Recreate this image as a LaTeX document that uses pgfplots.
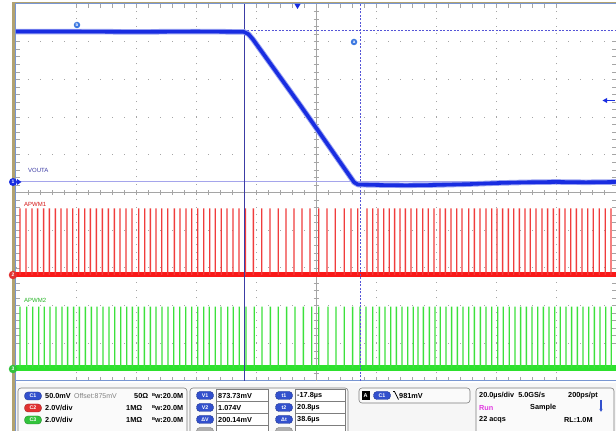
\documentclass[border=0pt]{standalone}
\usepackage{pgfplots}
\pgfplotsset{compat=1.18}
\usetikzlibrary{arrows.meta}
\usepackage{fontspec}
\setmainfont{Liberation Sans}
\definecolor{trblue}{RGB}{25,45,225}
\definecolor{trred}{RGB}{250,25,25}
\definecolor{pulsered}{RGB}{240,60,60}
\definecolor{trgreen}{RGB}{45,225,45}
\definecolor{pulsegreen}{RGB}{60,225,60}
\definecolor{gridgray}{RGB}{165,165,165}
\definecolor{framblue}{RGB}{120,150,210}
\definecolor{tanc}{RGB}{178,162,112}
\definecolor{curnavy}{RGB}{60,60,165}
\definecolor{curdash}{RGB}{85,85,215}
\definecolor{lav}{RGB}{165,165,235}
\definecolor{pillblue}{RGB}{50,80,205}
\definecolor{pillred}{RGB}{225,50,50}
\definecolor{pillgreen}{RGB}{50,195,60}
\definecolor{pillgray}{RGB}{175,175,175}
\definecolor{panelbg}{RGB}{246,246,246}
\definecolor{boxline}{RGB}{125,125,125}
\definecolor{runmag}{RGB}{225,60,225}
\definecolor{mkblue}{RGB}{60,120,225}
\pgfplotsset{scopeax/.style={scale only axis, width=600pt, height=377pt, at={(16pt,50pt)}, anchor=south west, xmin=-100, xmax=100}}
\tikzset{px/.style={x=1pt,y=-1pt,shift={(0pt,431pt)}}}
\newcommand{\pf}{\fontsize{7.3}{8}\selectfont\bfseries}
\newcommand{\bw}{\raisebox{1.8pt}{\fontsize{4.3}{5}\selectfont B}\kern-0.3pt\raisebox{-0.9pt}{\fontsize{5.8}{6}\selectfont W}}
\newcommand{\pill}[4]{\node[fill=#1, draw=#1!70!black, line width=0.4pt, rounded corners=3.5pt, minimum width=17pt, minimum height=8pt, inner sep=0pt, text=white, font=\fontsize{5.3}{6}\selectfont\bfseries] at (#2,#3) {#4};}
\begin{document}
\begin{tikzpicture}
\useasboundingbox (0,0) rectangle (616pt,431pt);
\fill[white] (0,0) rectangle (616pt,431pt);
\begin{scope}[px]
 \fill[panelbg] (16,383) rectangle (616,431);
 \fill[tanc] (11.5,2.5) rectangle (15,431);
 \fill[tanc] (11.5,2.5) rectangle (616,3.5);
 \draw[framblue, line width=1.2pt] (15.8,3.5) -- (15.8,431);
\end{scope}
% graticule
\begin{axis}[scopeax, ymin=-5, ymax=5,
  xtick={-80,-60,...,80}, ytick={-4,-3,...,4},
  minor x tick num=4, minor y tick num=4,
  xticklabels={}, yticklabels={},
  tick align=inside, major tick length=4pt, minor tick length=4pt,
  tick style={gridgray, line width=0.6pt},
  grid=major,
  major x grid style={gridgray, line width=0.9pt, dash pattern=on 1pt off 6.54pt},
  major y grid style={gridgray, line width=0.9pt, dash pattern=on 1pt off 11pt},
  axis line style={draw=framblue, line width=1pt}]
\addplot[draw=none] coordinates {(0,0)};
\end{axis}
% centre axes
\begin{axis}[scopeax, ymin=-5, ymax=5, axis lines=middle, axis line style={gridgray, -, line width=0.7pt},
  xtick={-96,-92,...,96}, ytick={-4.8,-4.6,...,4.8}, xticklabels={}, yticklabels={},
  tick align=center, major tick length=5pt, tick style={gridgray, line width=0.6pt}]
\addplot[draw=none] coordinates {(0,0)};
\end{axis}
% APWM1 (red), baseline at y=0
\begin{axis}[scopeax, hide axis, ymin=-2.812, ymax=7.188]
\addplot[trred, line width=5pt] coordinates {(-100,0) (100,0)};
\addplot[ybar, bar width=1.4pt, bar shift=0pt, fill=pulsered, draw=none, mark=none] coordinates {
(-98.67,1.77) (-96.67,1.77) (-94.67,1.77) (-92.77,1.77) (-90.77,1.77) (-88.9,1.77) (-86.9,1.77) (-85,1.77)
(-83,1.77) (-81.1,1.77) (-79.1,1.77) (-77.1,1.77) (-75.23,1.77) (-73.23,1.77) (-71.23,1.77) (-69.23,1.77)
(-67.23,1.77) (-65.33,1.77) (-63.33,1.77) (-61.33,1.77) (-59.1,1.77) (-57.1,1.77) (-55.23,1.77) (-53.33,1.77)
(-51.43,1.77) (-49.43,1.77) (-47.23,1.77) (-45.33,1.77) (-43.33,1.77) (-41.43,1.77) (-39.43,1.77) (-37.43,1.77)
(-35.43,1.77) (-33.57,1.77) (-31.57,1.77) (-29.67,1.77) (-27.67,1.77) (-25.67,1.77) (-23.5,1.77) (-20.9,1.77)
(-18.1,1.77) (-15.33,1.77) (-12.57,1.77) (-10,1.77) (-7.33,1.77) (-4.67,1.77) (-2,1.77) (0.9,1.77)
(3.67,1.77) (6.43,1.77) (9.43,1.77) (11.67,1.77) (13.9,1.77) (17,1.77) (18.9,1.77) (20.67,1.77)
(22.57,1.77) (24.43,1.77) (26.23,1.77) (28,1.77) (29.77,1.77) (31.67,1.77) (33.57,1.77) (35.57,1.77)
(37.43,1.77) (39.33,1.77) (41.33,1.77) (43.1,1.77) (45,1.77) (46.9,1.77) (48.67,1.77) (50.9,1.77)
(52.77,1.77) (54.67,1.77) (56.67,1.77) (58.57,1.77) (60.33,1.77) (62.23,1.77) (64.1,1.77) (65.9,1.77)
(67.77,1.77) (69.67,1.77) (71.43,1.77) (73.33,1.77) (75.33,1.77) (77.23,1.77) (79.1,1.77) (81.1,1.77)
(83,1.77) (84.9,1.77) (86.77,1.77) (88.67,1.77) (90.57,1.77) (92.43,1.77) (94.43,1.77) (96.43,1.77) (98.33,1.77)};
\end{axis}
% APWM2 (green), baseline at y=0
\begin{axis}[scopeax, hide axis, ymin=-0.345, ymax=9.655]
\addplot[trgreen, line width=5.5pt] coordinates {(-100,0) (100,0)};
\addplot[ybar, bar width=1.4pt, bar shift=0pt, fill=pulsegreen, draw=none, mark=none] coordinates {
(-98.67,1.63) (-96.43,1.63) (-94.43,1.63) (-92.43,1.63) (-90.57,1.63) (-88.67,1.63) (-86.67,1.63) (-84.67,1.63)
(-82.77,1.63) (-80.77,1.63) (-78.9,1.63) (-76.9,1.63) (-74.9,1.63) (-73,1.63) (-71,1.63) (-69,1.63)
(-67.1,1.63) (-65.1,1.63) (-63.1,1.63) (-61.23,1.63) (-59.23,1.63) (-57.23,1.63) (-55.23,1.63) (-53.33,1.63)
(-51.33,1.63) (-49.33,1.63) (-47.43,1.63) (-45.43,1.63) (-43.43,1.63) (-41.43,1.63) (-39.43,1.63) (-37.43,1.63)
(-35.57,1.63) (-33.57,1.63) (-31.67,1.63) (-29.43,1.63) (-27.57,1.63) (-25.57,1.63) (-23.33,1.63) (-20.57,1.63)
(-18,1.63) (-15.23,1.63) (-12.57,1.63) (-9.77,1.63) (-7,1.63) (-4.23,1.63) (-1.43,1.63) (0.9,1.63)
(4,1.63) (6.67,1.63) (9.43,1.63) (12.23,1.63) (14.67,1.63) (16.67,1.63) (18.9,1.63) (21.1,1.63)
(23,1.63) (24.9,1.63) (26.77,1.63) (28.67,1.63) (30.57,1.63) (32.43,1.63) (34,1.63) (35.77,1.63)
(37.77,1.63) (39.67,1.63) (41.43,1.63) (43.33,1.63) (45.23,1.63) (47.1,1.63) (49,1.63) (50.9,1.63)
(52.77,1.63) (54.77,1.63) (56.67,1.63) (58.57,1.63) (60.57,1.63) (62.43,1.63) (64.43,1.63) (66.33,1.63)
(68.23,1.63) (70.1,1.63) (72,1.63) (73.9,1.63) (75.77,1.63) (77.67,1.63) (79.57,1.63) (81.43,1.63)
(83.33,1.63) (85.23,1.63) (87.1,1.63) (89,1.63) (90.9,1.63) (92.77,1.63) (94.67,1.63) (96.57,1.63) (98.43,1.63)};
\end{axis}
% cursors and VOUTA
\begin{axis}[scopeax, hide axis, ymin=-5, ymax=5]
\addplot[lav, line width=1pt] coordinates {(-100,0.28) (100,0.28)};
\addplot[curdash, line width=0.8pt, dash pattern=on 2pt off 1.5pt] coordinates {(-100,4.31) (100,4.31)};
\addplot[curdash, line width=0.8pt, dash pattern=on 2pt off 1.5pt] coordinates {(14.67,-5) (14.67,5)};
\addplot[curnavy, line width=1pt] coordinates {(-23.67,-5) (-23.67,5)};
\addplot[trblue!45, line width=5.5pt, line join=round] coordinates {
(-100,4.27) (-80,4.27) (-60,4.26) (-40,4.27) (-24,4.26) (-22.5,4.2) (-21,4.06) (-5.3,2.32) (0,1.72)
(11.3,0.43) (12.7,0.27) (14,0.21) (20,0.2) (30,0.19) (40,0.2) (50,0.22) (60,0.25) (70,0.27) (80,0.28) (90,0.27) (100,0.28)};
\addplot[trblue, line width=3.6pt, line join=round] coordinates {
(-100,4.27) (-80,4.27) (-60,4.26) (-40,4.27) (-24,4.26) (-22.5,4.2) (-21,4.06) (-5.3,2.32) (0,1.72)
(11.3,0.43) (12.7,0.27) (14,0.21) (20,0.2) (30,0.19) (40,0.2) (50,0.22) (60,0.25) (70,0.27) (80,0.28) (90,0.27) (100,0.28)};
\end{axis}
% markers and labels
\begin{scope}[px]
 \node[anchor=west, inner sep=0pt, text=curnavy, font=\fontsize{6}{7}\selectfont] at (28,170) {VOUTA};
 \node[anchor=west, inner sep=0pt, text=trred!85!black, font=\fontsize{6}{7}\selectfont] at (24,204) {APWM1};
 \node[anchor=west, inner sep=0pt, text=trgreen!80!black, font=\fontsize{6}{7}\selectfont] at (24,300) {APWM2};
 \fill[trblue] (17,179) -- (21.5,182) -- (17,185) -- cycle;
 \node[circle, fill=trblue, inner sep=0pt, minimum size=8pt, text=white, font=\fontsize{5}{5}\selectfont\bfseries] at (13,182) {1};
 \node[circle, fill=pillred, inner sep=0pt, minimum size=8.5pt, text=white, font=\fontsize{5}{5}\selectfont\bfseries] at (13,275) {2};
 \node[circle, fill=pillgreen, inner sep=0pt, minimum size=8.5pt, text=white, font=\fontsize{5}{5}\selectfont\bfseries] at (13,369) {3};
 \node[circle, fill=mkblue, inner sep=0pt, minimum size=6.5pt, text=white, font=\fontsize{4.5}{5}\selectfont\bfseries] at (77,25) {b};
 \node[circle, fill=mkblue, inner sep=0pt, minimum size=6.5pt, text=white, font=\fontsize{4.5}{5}\selectfont\bfseries] at (354,42) {a};
 \fill[trblue] (294.5,4) -- (300.5,4) -- (297.5,9) -- cycle;
 \draw[trblue, line width=1pt] (615,100.5) -- (606,100.5);
 \fill[trblue] (602.5,100.5) -- (607,98) -- (607,103) -- cycle;
\end{scope}
% bottom panel
\begin{scope}[px, overlay]
 \filldraw[fill=white!96!gray, draw=boxline, rounded corners=3pt, line width=0.6pt] (18,388) rectangle (187,442);
 \filldraw[fill=white!96!gray, draw=boxline, rounded corners=3pt, line width=0.6pt] (190,388) rectangle (348,442);
 \filldraw[fill=white!96!gray, draw=boxline, rounded corners=3pt, line width=0.6pt] (359,388) rectangle (470,403);
 \filldraw[fill=white!96!gray, draw=boxline, rounded corners=3pt, line width=0.6pt] (476,388) rectangle (614,442);
 \pill{pillblue}{33}{396}{C1}
 \pill{pillred}{33}{408}{C2}
 \pill{pillgreen}{33}{420}{C3}
 \node[anchor=west, inner sep=0pt, font=\pf] at (45,396) {50.0mV};
 \node[anchor=west, inner sep=0pt, font=\fontsize{7}{8}\selectfont, text=gray] at (74,396) {Offset:875mV};
 \node[anchor=west, inner sep=0pt, font=\pf] at (134,396) {50Ω};
 \node[anchor=west, inner sep=0pt, font=\pf] at (152,396) {\bw:20.0M};
 \node[anchor=west, inner sep=0pt, font=\pf] at (45,408) {2.0V/div};
 \node[anchor=west, inner sep=0pt, font=\pf] at (126,408) {1MΩ};
 \node[anchor=west, inner sep=0pt, font=\pf] at (152,408) {\bw:20.0M};
 \node[anchor=west, inner sep=0pt, font=\pf] at (45,420) {2.0V/div};
 \node[anchor=west, inner sep=0pt, font=\pf] at (126,420) {1MΩ};
 \node[anchor=west, inner sep=0pt, font=\pf] at (152,420) {\bw:20.0M};
 \foreach \yy in {389.5,401.5,413.5,425.5} {
   \draw[boxline, fill=white, line width=0.5pt] (216,\yy) rectangle (268,\yy+12);
   \draw[boxline, fill=white, line width=0.5pt] (295,\yy) rectangle (345,\yy+12);
 }
 \pill{pillblue}{205}{395.5}{V1}
 \pill{pillblue}{205}{407.5}{V2}
 \pill{pillblue}{205}{419.5}{ΔV}
 \pill{pillgray}{205}{431.5}{}
 \pill{pillblue}{284}{395.5}{t1}
 \pill{pillblue}{284}{407.5}{t2}
 \pill{pillblue}{284}{419.5}{Δt}
 \pill{pillgray}{284}{431.5}{}
 \node[anchor=west, inner sep=0pt, font=\pf] at (218,395.5) {873.73mV};
 \node[anchor=west, inner sep=0pt, font=\pf] at (218,407.5) {1.074V};
 \node[anchor=west, inner sep=0pt, font=\pf] at (218,419.5) {200.14mV};
 \node[anchor=west, inner sep=0pt, font=\pf] at (297,395.5) {-17.8µs};
 \node[anchor=west, inner sep=0pt, font=\pf] at (297,407.5) {20.8µs};
 \node[anchor=west, inner sep=0pt, font=\pf] at (297,419.5) {38.6µs};
 \node[fill=black, minimum width=8pt, minimum height=8.5pt, inner sep=0pt, text=white, font=\fontsize{5.5}{6}\selectfont\bfseries] at (365.5,395.5) {A};
 \pill{pillblue}{382}{395.5}{C1}
 \draw[black, line width=0.7pt] (393,391.5) -- (394.5,391.5) -- (398.5,399.5);
 \node[anchor=west, inner sep=0pt, font=\pf] at (399,395.5) {981mV};
 \node[anchor=west, inner sep=0pt, font=\pf] at (479,396) {20.0µs/div\ \ 5.0GS/s};
 \node[anchor=west, inner sep=0pt, font=\pf] at (568,396) {200ps/pt};
 \node[anchor=west, inner sep=0pt, font=\pf, text=runmag] at (479,408) {Run};
 \node[anchor=west, inner sep=0pt, font=\pf] at (530,408) {Sample};
 \draw[pillblue, line width=1.2pt, -{Latex[length=3pt,width=3.5pt]}] (601,400) -- (601,412);
 \node[anchor=west, inner sep=0pt, font=\pf] at (479,420) {22 acqs};
 \node[anchor=west, inner sep=0pt, font=\pf] at (564,420) {RL:1.0M};
\end{scope}
\end{tikzpicture}
\end{document}
